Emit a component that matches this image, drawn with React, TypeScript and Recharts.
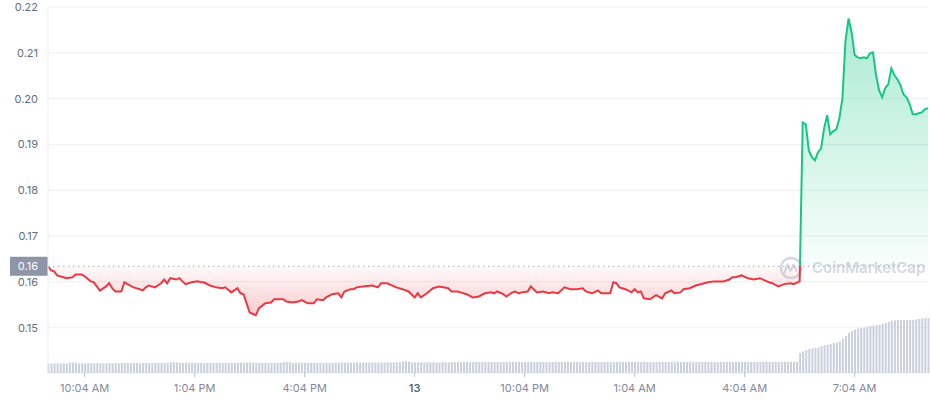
import React from 'react';
import { ComposedChart, Area, Bar, XAxis, YAxis, CartesianGrid, ReferenceLine } from 'recharts';

const FONT = 'Inter, "Noto Sans", sans-serif';

// time axis: minutes since 9:04 AM, one slot every 5 minutes
const SLOT_MINUTES = 5;
const X_TICKS = [60, 240, 420, 600, 780, 960, 1140, 1320];
const X_TICK_LABELS = ['10:04 AM', '1:04 PM', '4:04 PM', '13', '10:04 PM', '1:04 AM', '4:04 AM', '7:04 AM'];
const BOLD_TICK_LABELS = ['13'];

const Y_TICKS = [0.15, 0.16, 0.17, 0.18, 0.19, 0.2, 0.21, 0.22];
const PRICE_DOMAIN: [number, number] = [0.1401, 0.22];
const BASELINE = 0.1634;

// [slot index, price]
const PRICE_POINTS: [number, number][] = [
  [0, 0.1634], [1, 0.1625], [2, 0.1623], [3, 0.1614], [5, 0.161], [6, 0.1608], [8, 0.161], [9, 0.1616],
  [11, 0.1616], [12, 0.1612], [14, 0.1601], [15, 0.1599], [17, 0.1581], [19, 0.159], [20, 0.1597], [21, 0.1586],
  [22, 0.1579], [24, 0.1579], [25, 0.1599], [26, 0.1595], [28, 0.1588], [30, 0.1584], [31, 0.1581], [32, 0.1588],
  [33, 0.1592], [35, 0.1588], [37, 0.1597], [38, 0.1605], [39, 0.1597], [40, 0.1608], [42, 0.1605], [43, 0.1608],
  [44, 0.1601], [45, 0.1595], [47, 0.1599], [49, 0.1601], [50, 0.1599], [51, 0.1599], [53, 0.1592], [55, 0.1588],
  [57, 0.1586], [58, 0.1588], [60, 0.1577], [62, 0.1586], [63, 0.1575], [64, 0.1573], [65, 0.1553], [66, 0.1533],
  [68, 0.1527], [69, 0.1542], [71, 0.1553], [73, 0.1555], [74, 0.1562], [77, 0.1562], [78, 0.1557], [80, 0.1555],
  [82, 0.1557], [83, 0.156], [85, 0.1553], [87, 0.1553], [88, 0.1562], [90, 0.156], [91, 0.1566], [93, 0.1573],
  [95, 0.1575], [96, 0.1566], [97, 0.1579], [99, 0.1584], [100, 0.1584], [101, 0.1588], [103, 0.159], [106, 0.1592],
  [108, 0.1588], [109, 0.1597], [111, 0.1597], [114, 0.1588], [116, 0.1584], [118, 0.1579], [120, 0.1566], [121, 0.1575],
  [122, 0.1566], [124, 0.1575], [126, 0.1586], [128, 0.159], [131, 0.1586], [132, 0.1579], [134, 0.1579], [135, 0.1577],
  [137, 0.1573], [139, 0.1566], [141, 0.1568], [143, 0.1575], [145, 0.1577], [146, 0.1575], [147, 0.1579], [149, 0.1573],
  [150, 0.1568], [152, 0.1577], [153, 0.1579], [154, 0.1575], [155, 0.1577], [157, 0.1579], [158, 0.159], [160, 0.1577],
  [162, 0.1579], [164, 0.1575], [165, 0.1577], [167, 0.1575], [169, 0.1588], [171, 0.1584], [173, 0.1584], [175, 0.1586],
  [176, 0.1579], [178, 0.1575], [180, 0.1581], [181, 0.1575], [183, 0.1575], [184, 0.1575], [185, 0.1599], [186, 0.1597],
  [187, 0.1588], [189, 0.1584], [191, 0.1577], [192, 0.1584], [193, 0.1577], [194, 0.1579], [195, 0.1564], [197, 0.1562],
  [199, 0.1571], [201, 0.1564], [202, 0.1575], [204, 0.1581], [205, 0.1575], [207, 0.1577], [208, 0.1584], [210, 0.1586],
  [212, 0.1592], [216, 0.1599], [218, 0.1601], [221, 0.1601], [223, 0.1605], [224, 0.161], [225, 0.161], [227, 0.1614],
  [229, 0.1608], [231, 0.1605], [233, 0.1608], [234, 0.1605], [236, 0.1599], [237, 0.1597], [239, 0.159], [241, 0.1595],
  [243, 0.1597], [244, 0.1595], [246, 0.1601],
  [247, 0.1948], [248, 0.1944], [249, 0.1887], [250, 0.1872], [251, 0.1865], [252, 0.1883], [253, 0.1891], [254, 0.1935],
  [255, 0.1964], [256, 0.1922], [257, 0.1929], [258, 0.1933], [259, 0.1957], [260, 0.2001], [261, 0.2127], [262, 0.2175],
  [263, 0.2145], [264, 0.2095], [265, 0.209], [266, 0.2088], [267, 0.209], [268, 0.2088], [269, 0.2099], [270, 0.2101],
  [271, 0.2051], [272, 0.2018], [273, 0.2003], [274, 0.2023], [275, 0.2031], [276, 0.2066], [277, 0.2051], [278, 0.2042],
  [279, 0.2029], [280, 0.2009], [281, 0.2003], [282, 0.1988], [283, 0.1966], [284, 0.1966], [285, 0.1968], [286, 0.197],
  [287, 0.1977], [288, 0.1979],
];

// volume per 5-minute slot (hundred-thousands)
const VOLUMES: number[] = [
  10.4, 10.2, 10.5, 10.3, 10.4, 10.6, 10.3, 11.2, 11.5, 11.0, 10.4, 10.5,
  10.6, 10.4, 10.8, 10.5, 10.9, 10.6, 10.4, 10.7, 10.9, 10.6, 10.8, 10.5,
  10.9, 11.0, 10.7, 10.8, 11.1, 10.9, 10.6, 10.8, 11.0, 10.9, 10.7, 11.0,
  10.8, 11.1, 10.9, 11.0, 11.8, 12.0, 11.6, 11.0, 10.9, 11.1, 10.8, 11.0,
  11.0, 10.9, 11.2, 10.8, 11.0, 11.1, 10.9, 11.2, 11.0, 10.8, 11.1, 11.0,
  11.2, 11.0, 10.9, 11.3, 11.1, 11.5, 11.8, 11.4, 11.0, 11.2, 10.9, 11.1,
  11.0, 11.2, 10.9, 11.1, 11.3, 12.0, 12.2, 11.8, 11.1, 11.0, 11.2, 10.9,
  11.1, 11.0, 11.3, 11.1, 10.9, 11.2, 11.0, 11.3, 11.1, 11.0, 11.2, 11.4,
  11.5, 11.3, 11.6, 11.4, 11.5, 11.7, 11.4, 11.6, 11.3, 11.5, 11.6, 11.4,
  11.6, 11.5, 11.4, 11.7, 11.5, 11.6, 11.8, 11.5, 12.5, 12.8, 12.4, 11.7,
  11.6, 11.8, 11.5, 11.7, 11.9, 11.6, 11.8, 11.7, 11.5, 11.9, 11.8, 11.6,
  12.0, 11.9, 12.1, 11.8, 12.0, 12.2, 11.9, 12.1, 12.0, 11.8, 12.1, 12.0,
  12.1, 12.0, 11.9, 12.2, 12.0, 12.1, 11.9, 12.0, 12.2, 12.1, 11.9, 12.0,
  12.1, 12.0, 12.2, 11.9, 12.1, 12.0, 12.2, 12.1, 11.9, 12.0, 12.2, 12.1,
  12.0, 12.2, 12.1, 11.9, 12.0, 12.2, 12.1, 12.0, 11.9, 12.1, 12.2, 12.0,
  12.1, 12.0, 12.2, 12.1, 12.3, 12.0, 12.1, 12.2, 12.0, 12.1, 12.3, 12.1,
  12.0, 12.2, 12.1, 12.3, 12.1, 12.0, 12.2, 12.1, 12.3, 12.0, 12.2, 12.1,
  12.2, 12.1, 12.3, 12.0, 12.2, 12.1, 12.3, 12.2, 12.0, 12.1, 12.3, 12.2,
  12.1, 12.3, 12.2, 12.0, 12.2, 12.3, 12.1, 12.2, 12.0, 12.3, 12.1, 12.2,
  12.3, 12.2, 12.1, 12.3, 12.2, 12.0, 12.2, 12.3, 12.1, 12.2, 12.3, 12.2,
  12.1, 12.3, 12.2, 12.0, 12.2, 12.3,
  21.9, 23.5, 25.1, 26.2, 26.8, 27.3, 27.9, 29.5, 30.6, 31.1, 31.7, 32.8,
  33.3, 34.4, 37.2, 40.4, 43.7, 45.9, 47.5, 48.6, 49.2, 49.7, 50.3, 51.4,
  51.9, 52.5, 52.5, 53.6, 54.6, 55.7, 56.8, 57.4, 57.9, 57.9, 57.9, 57.9,
  57.9, 57.9, 58.5, 59.0, 59.6, 60.1, 60.1,
];
const VOLUME_DOMAIN: [number, number] = [0, 400];

const GREEN = '#16c784';
const RED = '#ea3943';

const priceBySlot = new Map<number, number>(PRICE_POINTS);
const data = VOLUMES.map((v, i) => ({
  t: i * SLOT_MINUTES,
  volume: v,
  price: priceBySlot.has(i) ? (priceBySlot.get(i) as number) : null,
}));

const priceValues = PRICE_POINTS.map((p) => p[1]);
const pMax = Math.max(...priceValues);
const pMin = Math.min(...priceValues);
const splitOffset = (pMax - BASELINE) / (pMax - pMin);

const XTick = (props: any) => {
  const { x, y, payload } = props;
  const idx = X_TICKS.indexOf(payload.value);
  const label = idx >= 0 ? X_TICK_LABELS[idx] : '';
  const bold = BOLD_TICK_LABELS.includes(label);
  return (
    <text
      x={x}
      y={y}
      dy="0.71em"
      textAnchor="middle"
      fontSize={11}
      fontFamily={FONT}
      fontWeight={bold ? 600 : 400}
      fill={bold ? '#58667e' : '#808a9d'}
    >
      {label}
    </text>
  );
};

const BaselineTag = (props: any) => {
  const vb = props.viewBox || {};
  const x = vb.x ?? 48;
  const y = vb.y ?? 266;
  return (
    <g>
      <rect x={x - 38} y={y - 9.5} width={38} height={19} fill="#8e95a6" />
      <text x={x - 10} y={y} dy="0.355em" textAnchor="end" fill="#ffffff" fontSize={11} fontFamily={FONT}>
        {BASELINE.toFixed(2)}
      </text>
    </g>
  );
};

export default function App() {
  return (
    <div style={{ position: 'absolute', left: 0, top: 0, width: 930, height: 400, background: '#fff' }}>
      <svg width={930} height={400} style={{ position: 'absolute', left: 0, top: 0 }}>
        <circle cx={791} cy={268} r={10} fill="none" stroke="#d5d9e0" strokeWidth={2.4} />
        <path
          d="M784.5 272.5 L787.5 264.5 L790.5 271 L793.5 264.5 L796.5 270.5"
          fill="none"
          stroke="#d5d9e0"
          strokeWidth={2.2}
          strokeLinejoin="round"
          strokeLinecap="round"
        />
        <text x={812} y={268} dy="0.355em" fontSize={15} fontWeight={600} fill="#d5d9e0" fontFamily={FONT}>
          CoinMarketCap
        </text>
      </svg>
      <div style={{ position: 'absolute', left: 0, top: 0 }}>
        <ComposedChart width={930} height={400} data={data} margin={{ top: 7, right: 2, bottom: 0, left: 0 }}>
          <defs>
            <linearGradient id="strokeGrad" x1="0" y1="0" x2="0" y2="1">
              <stop offset="0" stopColor={GREEN} />
              <stop offset={splitOffset} stopColor={GREEN} />
              <stop offset={splitOffset} stopColor={RED} />
              <stop offset="1" stopColor={RED} />
            </linearGradient>
            <linearGradient id="fillGrad" x1="0" y1="0" x2="0" y2="1">
              <stop offset="0" stopColor={GREEN} stopOpacity={0.36} />
              <stop offset={splitOffset} stopColor={GREEN} stopOpacity={0.03} />
              <stop offset={splitOffset} stopColor={RED} stopOpacity={0.03} />
              <stop offset="1" stopColor={RED} stopOpacity={0.26} />
            </linearGradient>
          </defs>
          <CartesianGrid yAxisId="price" vertical={false} stroke="#eef0f3" />
          <XAxis
            dataKey="t"
            type="number"
            domain={[0, 1440]}
            ticks={X_TICKS}
            interval={0}
            height={27}
            axisLine={false}
            tickLine={{ stroke: '#b9bfca' }}
            tickSize={4}
            tickMargin={7}
            tick={<XTick />}
          />
          <YAxis
            yAxisId="price"
            domain={PRICE_DOMAIN}
            ticks={Y_TICKS}
            allowDataOverflow
            width={48}
            tickLine={false}
            axisLine={{ stroke: '#eceef2' }}
            tickMargin={4}
            tick={{ fill: '#616e85', fontSize: 11, fontFamily: FONT }}
            tickFormatter={(v: number) => v.toFixed(2)}
          />
          <YAxis yAxisId="vol" hide domain={VOLUME_DOMAIN} allowDataOverflow />
          <Bar yAxisId="vol" dataKey="volume" fill="#c9d0dc" barSize={2} isAnimationActive={false} />
          <Area
            yAxisId="price"
            type="linear"
            dataKey="price"
            baseValue={BASELINE}
            stroke="url(#strokeGrad)"
            strokeWidth={2}
            fill="url(#fillGrad)"
            fillOpacity={1}
            connectNulls
            dot={false}
            activeDot={false}
            isAnimationActive={false}
          />
          <ReferenceLine
            yAxisId="price"
            y={BASELINE}
            stroke="#a3a9b6"
            strokeDasharray="1.5 3.5"
            strokeWidth={1}
            label={<BaselineTag />}
          />
        </ComposedChart>
      </div>
    </div>
  );
}
